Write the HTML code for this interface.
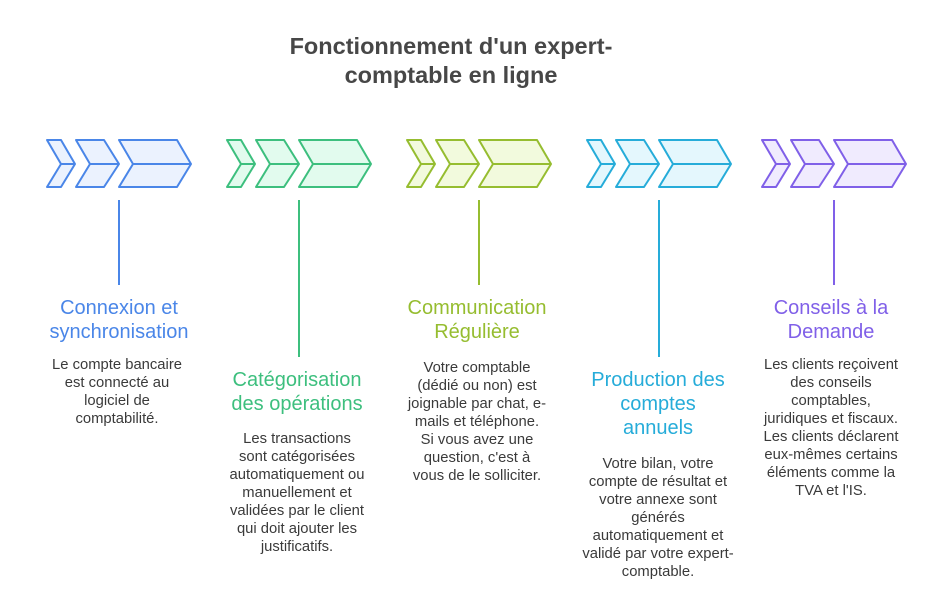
<!DOCTYPE html>
<html><head><meta charset="utf-8"><style>
body{margin:0;width:933px;height:614px;background:#fff;position:relative;font-family:"Liberation Sans",sans-serif;overflow:hidden}
.t{position:absolute;text-align:center;white-space:nowrap;transform:translateX(-50%)}
.h{font-size:20px;line-height:24px}
.b{font-size:14.8px;line-height:18px;color:#3a3a3a}
</style></head><body>
<div class="t" style="left:451px;top:32px;font-size:23.5px;line-height:29px;font-weight:bold;color:#474747">Fonctionnement d'un expert-<br>comptable en ligne</div>
<svg width="933" height="614" style="position:absolute;left:0;top:0">
<defs>
<g id="ch" stroke-width="2" stroke-linejoin="round">
<polygon points="0,140 14,140 28,164 14,187 0,187 14,164"/>
<polygon points="29,140 57,140 72,164 57,187 29,187 43,164"/>
<polygon points="72,140 130,140 144,164 130,187 72,187 86,164"/>
<line x1="14" y1="164" x2="28" y2="164"/><line x1="43" y1="164" x2="72" y2="164"/><line x1="86" y1="164" x2="144" y2="164"/>
</g>
</defs>
<use href="#ch" x="47" stroke="#4a86e8" fill="#ebf2fe"/>
<use href="#ch" x="227" stroke="#3dbf7e" fill="#e2fbee"/>
<use href="#ch" x="407" stroke="#96bd30" fill="#f2fadd"/>
<use href="#ch" x="587" stroke="#26acd9" fill="#e4f7fd"/>
<use href="#ch" x="762" stroke="#8060e8" fill="#f0ebfe"/>
<line x1="119" y1="200" x2="119" y2="285" stroke="#4a86e8" stroke-width="2"/>
<line x1="299" y1="200" x2="299" y2="357" stroke="#3dbf7e" stroke-width="2"/>
<line x1="479" y1="200" x2="479" y2="285" stroke="#96bd30" stroke-width="2"/>
<line x1="659" y1="200" x2="659" y2="357" stroke="#26acd9" stroke-width="2"/>
<line x1="834" y1="200" x2="834" y2="285" stroke="#8060e8" stroke-width="2"/>
</svg>
<div class="t h" style="left:119px;top:296px;color:#4a86e8">Connexion et<br>synchronisation</div>
<div class="t b" style="left:117px;top:356px">Le compte bancaire<br>est connecté au<br>logiciel de<br>comptabilité.</div>
<div class="t h" style="left:297px;top:368px;color:#3dbf7e">Catégorisation<br>des opérations</div>
<div class="t b" style="left:297px;top:430px">Les transactions<br>sont catégorisées<br>automatiquement ou<br>manuellement et<br>validées par le client<br>qui doit ajouter les<br>justificatifs.</div>
<div class="t h" style="left:477px;top:296px;color:#96bd30">Communication<br>Régulière</div>
<div class="t b" style="left:477px;top:359px">Votre comptable<br>(dédié ou non) est<br>joignable par chat, e-<br>mails et téléphone.<br>Si vous avez une<br>question, c'est à<br>vous de le solliciter.</div>
<div class="t h" style="left:658px;top:368px;color:#26acd9">Production des<br>comptes<br>annuels</div>
<div class="t b" style="left:658px;top:455px">Votre bilan, votre<br>compte de résultat et<br>votre annexe sont<br>générés<br>automatiquement et<br>validé par votre expert-<br>comptable.</div>
<div class="t h" style="left:831px;top:296px;color:#8060e8">Conseils à la<br>Demande</div>
<div class="t b" style="left:831px;top:356px">Les clients reçoivent<br>des conseils<br>comptables,<br>juridiques et fiscaux.<br>Les clients déclarent<br>eux-mêmes certains<br>éléments comme la<br>TVA et l'IS.</div>
</body></html>
